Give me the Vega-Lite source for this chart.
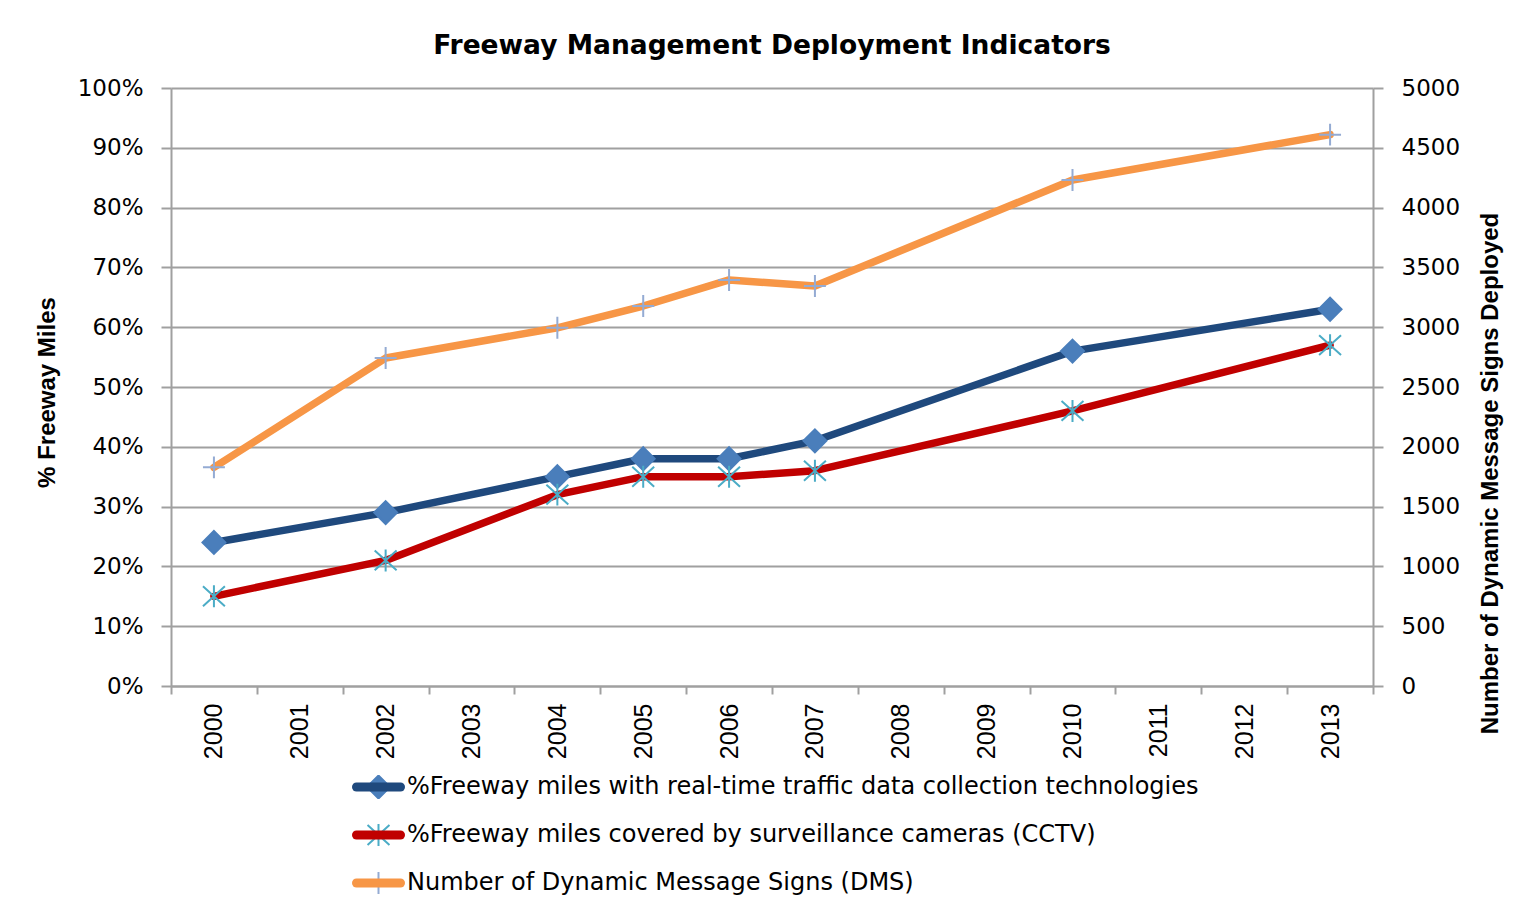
{
  "$schema": "https://vega.github.io/schema/vega-lite/v6.json",
  "width": 1202,
  "height": 598,
  "autosize": {"type": "none"},
  "padding": {"left": 171, "top": 88, "right": 164, "bottom": 225},
  "background": "white",
  "title": {
    "text": "Freeway Management Deployment Indicators",
    "anchor": "middle",
    "font": "DejaVu Sans",
    "fontSize": 26.5,
    "fontWeight": "bold",
    "color": "#000000",
    "offset": 18
  },
  "config": {
    "view": {"stroke": null},
    "axis": {
      "labelFont": "DejaVu Sans",
      "labelFontSize": 23,
      "labelColor": "#000000",
      "titleFont": "Liberation Sans",
      "titleFontSize": 24,
      "titleFontWeight": "bold",
      "titleColor": "#000000",
      "domainColor": "#a0a0a0",
      "domainWidth": 2,
      "tickColor": "#a0a0a0",
      "tickWidth": 2,
      "gridColor": "#a0a0a0",
      "gridWidth": 2
    },
    "legend": {
      "labelFont": "DejaVu Sans",
      "labelFontSize": 24,
      "labelColor": "#000000",
      "labelLimit": 1000,
      "padding": 0
    }
  },
  "datasets": {
    "pct": [
      {"year": 2000, "series": "%Freeway miles with real-time traffic data collection technologies", "value": 0.24},
      {"year": 2002, "series": "%Freeway miles with real-time traffic data collection technologies", "value": 0.29},
      {"year": 2004, "series": "%Freeway miles with real-time traffic data collection technologies", "value": 0.35},
      {"year": 2005, "series": "%Freeway miles with real-time traffic data collection technologies", "value": 0.38},
      {"year": 2006, "series": "%Freeway miles with real-time traffic data collection technologies", "value": 0.38},
      {"year": 2007, "series": "%Freeway miles with real-time traffic data collection technologies", "value": 0.41},
      {"year": 2010, "series": "%Freeway miles with real-time traffic data collection technologies", "value": 0.56},
      {"year": 2013, "series": "%Freeway miles with real-time traffic data collection technologies", "value": 0.63},
      {"year": 2000, "series": "%Freeway miles covered by surveillance cameras (CCTV)", "value": 0.15},
      {"year": 2002, "series": "%Freeway miles covered by surveillance cameras (CCTV)", "value": 0.21},
      {"year": 2004, "series": "%Freeway miles covered by surveillance cameras (CCTV)", "value": 0.32},
      {"year": 2005, "series": "%Freeway miles covered by surveillance cameras (CCTV)", "value": 0.35},
      {"year": 2006, "series": "%Freeway miles covered by surveillance cameras (CCTV)", "value": 0.35},
      {"year": 2007, "series": "%Freeway miles covered by surveillance cameras (CCTV)", "value": 0.36},
      {"year": 2010, "series": "%Freeway miles covered by surveillance cameras (CCTV)", "value": 0.46},
      {"year": 2013, "series": "%Freeway miles covered by surveillance cameras (CCTV)", "value": 0.57}
    ],
    "dms": [
      {"year": 2000, "series": "Number of Dynamic Message Signs (DMS)", "value": 1828},
      {"year": 2002, "series": "Number of Dynamic Message Signs (DMS)", "value": 2742},
      {"year": 2004, "series": "Number of Dynamic Message Signs (DMS)", "value": 2995},
      {"year": 2005, "series": "Number of Dynamic Message Signs (DMS)", "value": 3177},
      {"year": 2006, "series": "Number of Dynamic Message Signs (DMS)", "value": 3395},
      {"year": 2007, "series": "Number of Dynamic Message Signs (DMS)", "value": 3344},
      {"year": 2010, "series": "Number of Dynamic Message Signs (DMS)", "value": 4231},
      {"year": 2013, "series": "Number of Dynamic Message Signs (DMS)", "value": 4610}
    ]
  },
  "layer": [
    {
      "layer": [
        {
          "data": {"name": "pct"},
          "mark": {"type": "line", "strokeWidth": 7.5, "strokeJoin": "round", "strokeCap": "round"},
          "encoding": {
            "x": {
              "field": "year", "type": "ordinal",
              "scale": {"type": "band", "domain": [2000, 2001, 2002, 2003, 2004, 2005, 2006, 2007, 2008, 2009, 2010, 2011, 2012, 2013], "paddingInner": 0, "paddingOuter": 0},
              "axis": {
                "title": null,
                "tickBand": "extent",
                "labelAngle": 270,
                "labelFont": "Liberation Sans",
                "labelFontSize": 25,
                "tickSize": 8,
                "labelPadding": 9,
                "grid": false
              }
            },
            "y": {
              "field": "value", "type": "quantitative",
              "scale": {"domain": [0, 1], "nice": false},
              "axis": {
                "orient": "left",
                "title": "% Freeway Miles",
                "values": [0, 0.1, 0.2, 0.3, 0.4, 0.5, 0.6, 0.7, 0.8, 0.9, 1.0],
                "format": ".0%",
                "tickSize": 10,
                "labelPadding": 18,
                "grid": true,
                "titleAngle": 270,
                "titleX": -124,
                "titleY": 304,
                "titleAlign": "center",
                "titleBaseline": "middle"
              }
            },
            "color": {
              "field": "series", "type": "nominal",
              "scale": {
                "domain": ["%Freeway miles with real-time traffic data collection technologies", "%Freeway miles covered by surveillance cameras (CCTV)", "Number of Dynamic Message Signs (DMS)"],
                "range": ["#1f497d", "#c00000", "#f79646"]
              },
              "legend": {
                "title": null,
                "orient": "none",
                "direction": "vertical",
                "legendX": 181,
                "legendY": 687,
                "symbolType": "stroke",
                "symbolSize": 1936,
                "symbolStrokeWidth": 9,
                "labelOffset": 2,
                "clipHeight": 24,
                "rowPadding": 24,
                "encode": {"symbols": {"update": {"strokeCap": {"value": "round"}}}}
              }
            }
          }
        },
        {
          "data": {"name": "dms"},
          "mark": {"type": "line", "strokeWidth": 7.5, "strokeJoin": "round", "strokeCap": "round"},
          "encoding": {
            "x": {
              "field": "year", "type": "ordinal",
              "scale": {"type": "band", "domain": [2000, 2001, 2002, 2003, 2004, 2005, 2006, 2007, 2008, 2009, 2010, 2011, 2012, 2013], "paddingInner": 0, "paddingOuter": 0}
            },
            "y": {
              "field": "value", "type": "quantitative",
              "scale": {"domain": [0, 5000], "nice": false},
              "axis": {
                "orient": "right",
                "title": "Number of Dynamic Message Signs Deployed",
                "values": [0, 500, 1000, 1500, 2000, 2500, 3000, 3500, 4000, 4500, 5000],
                "format": "d",
                "tickSize": 10,
                "labelPadding": 18,
                "grid": false,
                "titleAngle": 270,
                "titleX": 117,
                "titleY": 385,
                "titleAlign": "center",
                "titleBaseline": "middle"
              }
            },
            "color": {
              "field": "series", "type": "nominal",
              "scale": {
                "domain": ["%Freeway miles with real-time traffic data collection technologies", "%Freeway miles covered by surveillance cameras (CCTV)", "Number of Dynamic Message Signs (DMS)"],
                "range": ["#1f497d", "#c00000", "#f79646"]
              }
            }
          }
        }
      ],
      "resolve": {"scale": {"y": "independent"}}
    },
    {
      "layer": [
        {
          "data": {"name": "pct"},
          "mark": {"type": "point", "strokeWidth": 2, "opacity": 1},
          "encoding": {
            "x": {
              "field": "year", "type": "ordinal",
              "scale": {"type": "band", "domain": [2000, 2001, 2002, 2003, 2004, 2005, 2006, 2007, 2008, 2009, 2010, 2011, 2012, 2013], "paddingInner": 0, "paddingOuter": 0}
            },
            "y": {
              "field": "value", "type": "quantitative",
              "scale": {"domain": [0, 1], "nice": false},
              "axis": null
            },
            "shape": {
              "field": "series", "type": "nominal",
              "scale": {
                "domain": ["%Freeway miles with real-time traffic data collection technologies", "%Freeway miles covered by surveillance cameras (CCTV)", "Number of Dynamic Message Signs (DMS)"],
                "range": ["M0,-0.45L0.45,0L0,0.45L-0.45,0Z", "M-0.43,-0.39L0.43,0.39M-0.43,0.39L0.43,-0.39M0,-0.43L0,0.43", "M-0.43,0L0.43,0M0,-0.43L0,0.43"]
              },
              "legend": {
                "title": null, "orient": "none", "direction": "vertical",
                "legendX": 181, "legendY": 687,
                "symbolSize": 2601, "symbolStrokeWidth": 2,
                "labelOffset": 2, "clipHeight": 24,
                "labelOpacity": 0, "rowPadding": 24
              }
            },
            "fill": {
              "field": "series", "type": "nominal",
              "scale": {
                "domain": ["%Freeway miles with real-time traffic data collection technologies", "%Freeway miles covered by surveillance cameras (CCTV)", "Number of Dynamic Message Signs (DMS)"],
                "range": ["#4a7ebb", "transparent", "transparent"]
              },
              "legend": {
                "title": null, "orient": "none", "direction": "vertical",
                "legendX": 181, "legendY": 687,
                "symbolSize": 2601, "symbolStrokeWidth": 2,
                "labelOffset": 2, "clipHeight": 24,
                "labelOpacity": 0, "rowPadding": 24
              }
            },
            "stroke": {
              "field": "series", "type": "nominal",
              "scale": {
                "domain": ["%Freeway miles with real-time traffic data collection technologies", "%Freeway miles covered by surveillance cameras (CCTV)", "Number of Dynamic Message Signs (DMS)"],
                "range": ["#4a7ebb", "#4bacc6", "#94abd3"]
              },
              "legend": {
                "title": null, "orient": "none", "direction": "vertical",
                "legendX": 181, "legendY": 687,
                "symbolSize": 2601, "symbolStrokeWidth": 2,
                "labelOffset": 2, "clipHeight": 24,
                "labelOpacity": 0, "rowPadding": 24
              }
            },
            "size": {"value": 2601}
          }
        },
        {
          "data": {"name": "dms"},
          "mark": {"type": "point", "strokeWidth": 2, "opacity": 1},
          "encoding": {
            "x": {
              "field": "year", "type": "ordinal",
              "scale": {"type": "band", "domain": [2000, 2001, 2002, 2003, 2004, 2005, 2006, 2007, 2008, 2009, 2010, 2011, 2012, 2013], "paddingInner": 0, "paddingOuter": 0}
            },
            "y": {
              "field": "value", "type": "quantitative",
              "scale": {"domain": [0, 5000], "nice": false},
              "axis": null
            },
            "shape": {
              "field": "series", "type": "nominal",
              "scale": {
                "domain": ["%Freeway miles with real-time traffic data collection technologies", "%Freeway miles covered by surveillance cameras (CCTV)", "Number of Dynamic Message Signs (DMS)"],
                "range": ["M0,-0.45L0.45,0L0,0.45L-0.45,0Z", "M-0.43,-0.39L0.43,0.39M-0.43,0.39L0.43,-0.39M0,-0.43L0,0.43", "M-0.43,0L0.43,0M0,-0.43L0,0.43"]
              }
            },
            "fill": {
              "field": "series", "type": "nominal",
              "scale": {
                "domain": ["%Freeway miles with real-time traffic data collection technologies", "%Freeway miles covered by surveillance cameras (CCTV)", "Number of Dynamic Message Signs (DMS)"],
                "range": ["#4a7ebb", "transparent", "transparent"]
              }
            },
            "stroke": {
              "field": "series", "type": "nominal",
              "scale": {
                "domain": ["%Freeway miles with real-time traffic data collection technologies", "%Freeway miles covered by surveillance cameras (CCTV)", "Number of Dynamic Message Signs (DMS)"],
                "range": ["#4a7ebb", "#4bacc6", "#94abd3"]
              }
            },
            "size": {"value": 2601}
          }
        }
      ],
      "resolve": {"scale": {"y": "independent"}}
    }
  ],
  "resolve": {"scale": {"y": "independent", "color": "independent"}, "legend": {"color": "independent"}}
}
